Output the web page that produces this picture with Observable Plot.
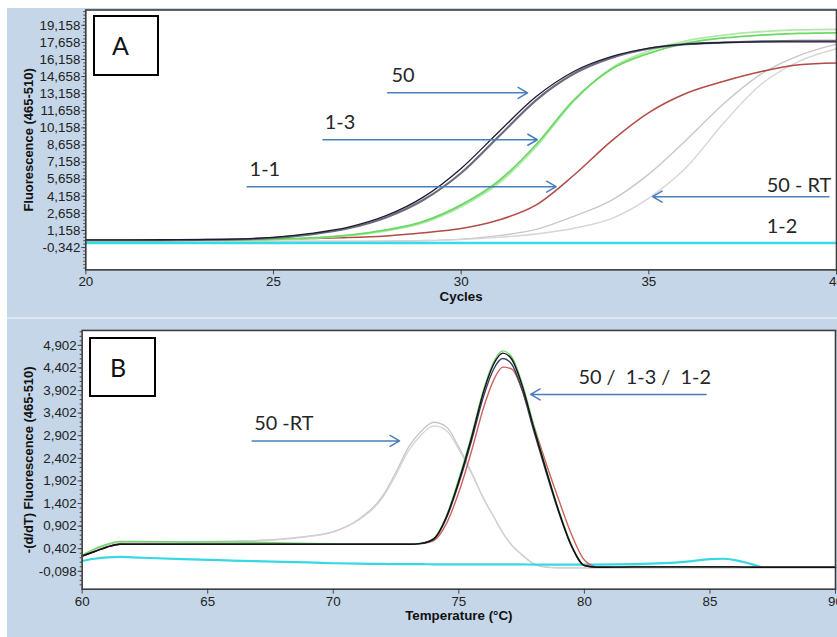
<!DOCTYPE html>
<html><head><meta charset="utf-8">
<script src="https://cdn.jsdelivr.net/npm/d3@7"></script>
<script src="https://cdn.jsdelivr.net/npm/@observablehq/plot@0.6"></script>
<style>
html,body{margin:0;padding:0;background:#fff;overflow:hidden;width:837px;height:637px}
.panel{position:absolute;left:7px;background:#c4d6e8;overflow:hidden}
#pa{top:8px;width:830px;height:309px}
#sep{position:absolute;left:7px;top:317px;width:830px;height:2px;background:#dde7f1}
#pb{top:319px;width:830px;height:318px}
.box{position:absolute;border:2.5px solid #000;background:#fff;font-family:Lato,"Open Sans",sans-serif;font-size:25px;color:#111;display:flex;align-items:center;box-sizing:border-box;line-height:1}
svg text{white-space:pre}
</style></head><body>
<div id="pa" class="panel"></div><div id="sep"></div><div id="pb" class="panel"></div>
<div class="box" style="left:93px;top:15px;width:66px;height:61px;padding-left:17px">A</div>
<div class="box" style="left:89px;top:337px;width:67px;height:60px;padding-left:19px">B</div>
<script>
// ---------- Panel A: amplification ----------
const cyclesA = [20,21,22,23,24,25,26,27,28,29,30,31,32,33,34,35,36,37,38,39,40];
const amp50a  = [0.33,0.33,0.34,0.36,0.40,0.55,0.90,1.45,2.45,4.10,6.60,9.80,12.9,15.1,16.4,17.15,17.5,17.65,17.7,17.7,17.7];
const amp50b  = [0.30,0.30,0.31,0.33,0.37,0.50,0.82,1.35,2.30,3.85,6.20,9.40,12.6,14.9,16.3,17.1,17.5,17.65,17.75,17.8,17.8];
const amp13a  = [0.30,0.30,0.30,0.31,0.33,0.38,0.50,0.75,1.20,1.95,3.40,5.50,8.70,12.6,15.3,16.7,17.6,18.05,18.3,18.45,18.5];
const amp13b  = [0.28,0.28,0.28,0.29,0.31,0.36,0.47,0.70,1.12,1.85,3.25,5.30,8.50,12.5,15.4,16.9,17.8,18.3,18.6,18.75,18.8];
const amp11   = [0.35,0.35,0.35,0.35,0.36,0.38,0.45,0.53,0.68,0.95,1.32,2.07,3.40,6.00,9.00,11.5,13.2,14.25,15.1,15.7,15.85];
const ampRTa  = [0.22,0.22,0.22,0.22,0.22,0.22,0.22,0.22,0.23,0.27,0.40,0.70,1.25,2.40,3.80,6.10,9.10,12.3,14.9,16.5,17.5];
const ampRTb  = [0.20,0.20,0.20,0.20,0.20,0.20,0.20,0.20,0.21,0.25,0.35,0.55,0.85,1.35,2.20,4.00,6.70,10.6,14.0,16.0,17.1];
const amp12   = [0.05,0.05,0.05,0.05,0.05,0.05,0.05,0.05,0.05,0.05,0.05,0.05,0.05,0.05,0.05,0.05,0.05,0.05,0.05,0.05,0.05];
const xTicksA = [20,25,30,35,40];
const yTicksA = [-0.342,1.158,2.658,4.158,5.658,7.158,8.658,10.158,11.658,13.158,14.658,16.158,17.658,19.158];
const yLabelsA = ["-0,342","1,158","2,658","4,158","5,658","7,158","8,658","10,158","11,658","13,158","14,658","16,158","17,658","19,158"];
const notesA = [
  {text:"50", x:28.45, y:14.73},
  {text:"1-3", x:26.77, y:10.62},
  {text:"1-1", x:24.77, y:6.46},
  {text:"50 - RT", x:39.0, y:5.1},
  {text:"1-2", x:38.55, y:1.52}
];
const arrowsA = [
  {x1:28.04, x2:31.77, y:13.23},
  {x1:26.32, x2:32.03, y:9.115},
  {x1:24.30, x2:32.53, y:5.00},
  {x1:39.80, x2:35.10, y:4.125}
];

// ---------- Panel B: melt ----------
const tempsB = [60,60.5,61,61.5,62,64,66,68,69,70,71,72,72.5,73,73.5,74,74.5,75,75.5,76,76.4,76.75,77.1,77.5,78,78.5,79,79.5,80,80.5,82,84,85,85.5,86,87,88,90];
const melt50   = [0.24,0.34,0.44,0.50,0.50,0.50,0.50,0.50,0.50,0.50,0.50,0.50,0.50,0.50,0.52,0.62,1.10,1.90,2.85,3.90,4.50,4.73,4.60,4.05,3.05,2.10,1.20,0.45,0.03,-0.01,0.00,0.00,0.00,0.00,0.00,-0.01,-0.01,-0.01];
const melt50b  = [0.24,0.34,0.44,0.50,0.50,0.50,0.50,0.50,0.50,0.50,0.50,0.50,0.50,0.50,0.52,0.61,1.07,1.85,2.78,3.80,4.39,4.61,4.49,3.95,2.98,2.05,1.17,0.44,0.03,-0.01,0.00,0.00,0.00,0.00,0.00,-0.01,-0.01,-0.01];
const melt13   = [0.26,0.40,0.50,0.56,0.56,0.55,0.55,0.53,0.52,0.51,0.50,0.50,0.50,0.50,0.52,0.63,1.12,1.95,2.90,3.95,4.55,4.78,4.65,4.10,3.10,2.12,1.22,0.47,0.04,0.00,0.01,0.00,0.00,0.00,0.00,-0.01,-0.01,-0.01];
const melt11   = [0.24,0.34,0.44,0.50,0.50,0.50,0.50,0.50,0.50,0.50,0.50,0.50,0.50,0.50,0.51,0.58,0.95,1.65,2.55,3.55,4.15,4.42,4.38,3.95,3.10,2.25,1.45,0.70,0.15,0.00,0.00,0.00,0.00,0.00,0.00,-0.01,-0.01,-0.01];
const meltRTa  = [0.24,0.38,0.48,0.53,0.55,0.56,0.57,0.62,0.68,0.78,1.05,1.60,2.10,2.65,3.00,3.20,3.10,2.65,2.10,1.50,1.10,0.75,0.48,0.27,0.06,-0.01,-0.02,-0.02,-0.02,-0.02,-0.02,-0.02,-0.02,-0.02,-0.02,-0.02,-0.02,-0.02];
const meltRTb  = [0.24,0.37,0.47,0.52,0.54,0.55,0.56,0.61,0.67,0.77,1.03,1.56,2.04,2.57,2.92,3.12,3.02,2.60,2.07,1.49,1.10,0.76,0.49,0.28,0.07,0.00,-0.02,-0.02,-0.02,-0.02,-0.02,-0.02,-0.02,-0.02,-0.02,-0.02,-0.02,-0.02];
const melt12   = [0.13,0.18,0.21,0.22,0.21,0.17,0.14,0.11,0.10,0.08,0.07,0.065,0.06,0.06,0.06,0.055,0.055,0.055,0.055,0.055,0.055,0.055,0.055,0.055,0.05,0.05,0.05,0.05,0.05,0.05,0.06,0.11,0.17,0.18,0.15,0.00,null,null];
const xTicksB = [60,65,70,75,80,85,90];
const yTicksB = [-0.098,0.402,0.902,1.402,1.902,2.402,2.902,3.402,3.902,4.402,4.902];
const yLabelsB = ["-0,098","0,402","0,902","1,402","1,902","2,402","2,902","3,402","3,902","4,402","4,902"];
const notesB = [
  {text:"50 -RT", x:68.03, y:3.17},
  {text:"50 /  1-3 /  1-2", x:82.4, y:4.186}
];
const arrowsB = [
  {x1:66.77, x2:72.64, y:2.787},
  {x1:84.85, x2:77.86, y:3.816}
];

// ---------- styles (kept separate from data) ----------
const stylesA = [
  {values: ampRTa, stroke:"#c8c8c8", w:1.4},
  {values: ampRTb, stroke:"#d6d6d6", w:1.4},
  {values: amp11,  stroke:"#b24a45", w:1.5},
  {values: amp13b, stroke:"#aeeaa6", w:1.8},
  {values: amp13a, stroke:"#6cd865", w:1.8},
  {values: amp50b, stroke:"#6c6c7c", w:2.2},
  {values: amp50a, stroke:"#1c1c30", w:1.3},
  {values: amp12,  stroke:"#35dbe6", w:2.6}
];
const stylesB = [
  {values: meltRTa, stroke:"#c6c6c6", w:1.3},
  {values: meltRTb, stroke:"#d4d4d4", w:1.3},
  {values: melt12,  stroke:"#38d7e4", w:2.2},
  {values: melt11,  stroke:"#d0605c", w:1.4},
  {values: melt13,  stroke:"#6cd865", w:1.4},
  {values: melt50b, stroke:"#3c3c66", w:1.4},
  {values: melt50,  stroke:"#111111", w:1.4}
];

const fmt = (ticks, labels) => d => labels[ticks.indexOf(d)] ?? "";
const axisFont = "'Liberation Sans', Arial, sans-serif";
const noteFont = "Lato, 'Open Sans', sans-serif";

function panel({xs, series, xDomain, yDomain, xTicks, yTicks, yLabels, minorStep, notes, arrows, width, height, margins, xLabel, yLabel, yLabelDx}) {
  const minor = d3.range(yTicks[0] - Math.floor((yTicks[0]-yDomain[0])/minorStep)*minorStep, yDomain[1], minorStep);
  const lines = series.map(s => Plot.line(xs.map((x,i)=>({x, y:s.values[i]})), {x:"x", y:"y", stroke:s.stroke, strokeWidth:s.w, curve:"monotone-x"}));
  return Plot.plot({
    width, height, ...margins,
    style:{fontFamily:axisFont, fontSize:"13.4px", color:"#222", background:"transparent", overflow:"visible"},
    x:{domain:xDomain, label:null},
    y:{domain:yDomain, label:null},
    marks:[
      Plot.frame({fill:"white"}),
      Plot.axisY(minor, {tickSize:2, tickFormat:()=>"", stroke:"#444", label:null}),
      Plot.axisY(yTicks, {tickSize:4, tickPadding:1.5, tickFormat:fmt(yTicks,yLabels), stroke:"#444", label:null}),
      Plot.axisX(xTicks, {tickSize:5, tickPadding:2, stroke:"#444", label:null}),
      ...lines,
      Plot.arrow(arrows, {x1:"x1", x2:"x2", y1:"y", y2:"y", stroke:"#4a7ebb", strokeWidth:1.5, headLength:11}),
      Plot.text(notes, {x:"x", y:"y", text:"text", fontFamily:noteFont, fontSize:20, fill:"#262626"}),
      Plot.frame({stroke:"#3c3c3c", strokeWidth:1.6}),
      Plot.text([xLabel], {text:d=>d, frameAnchor:"bottom", lineAnchor:"middle", textAnchor:"middle", dy:27, fontWeight:"bold", fontSize:13.4, fill:"#111"}),
      Plot.text([yLabel], {text:d=>d, frameAnchor:"left", lineAnchor:"middle", textAnchor:"middle", dx:yLabelDx, rotate:-90, fontWeight:"bold", fontSize:13, fill:"#111"})
    ]
  });
}

document.getElementById("pa").append(panel({
  xs: cyclesA, series: stylesA, xDomain:[20,40], yDomain:[-2.3,20.5],
  xTicks:xTicksA, yTicks:yTicksA, yLabels:yLabelsA, minorStep:0.3,
  notes:notesA, arrows:arrowsA, width:832, height:309,
  margins:{marginLeft:78.5, marginRight:1, marginTop:1.5, marginBottom:47},
  xLabel:"Cycles", yLabel:"Fluorescence (465-510)", yLabelDx:-57.5
}));
document.getElementById("pb").append(panel({
  xs: tempsB, series: stylesB, xDomain:[60,90], yDomain:[-0.494,5.232],
  xTicks:xTicksB, yTicks:yTicksB, yLabels:yLabelsB, minorStep:0.1,
  notes:notesB, arrows:arrowsB, width:834, height:318,
  margins:{marginLeft:75, marginRight:2, marginTop:11, marginBottom:47},
  xLabel:"Temperature (°C)", yLabel:"-(d/dT) Fluorescence (465-510)", yLabelDx:-54
}));
</script>
</body></html>
